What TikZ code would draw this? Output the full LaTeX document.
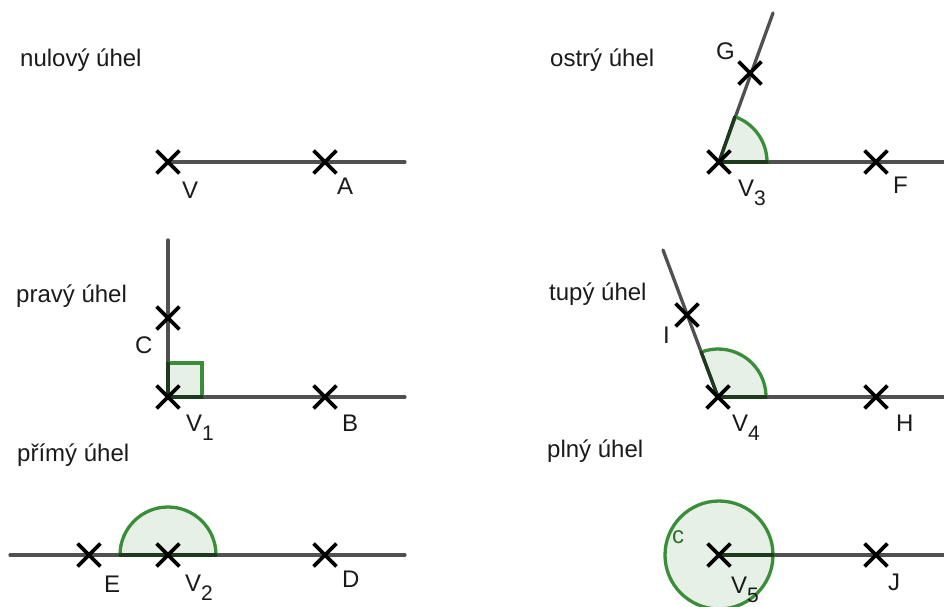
\documentclass[tikz,border=0pt]{standalone}
\usepackage{fontspec}
\setmainfont{Liberation Sans}
\usetikzlibrary{shapes.misc}
\definecolor{raygray}{HTML}{505050}
\definecolor{anggreen}{HTML}{3A8E3A}
\definecolor{angdark}{HTML}{1E3A1E}
\definecolor{txt}{HTML}{1A1A1A}
\newcommand\lblsub[1]{\raisebox{-9pt}{\fontsize{21}{21}\selectfont #1}}
\begin{document}
\begin{tikzpicture}[x=1pt,y=-1pt,
 ray/.style={draw=raygray,line width=3.3pt,line cap=round},
 pt/.style={cross out,draw=black,line width=3.8pt,minimum size=19pt,inner sep=0pt},
 lbl/.style={anchor=base west,text=txt,font=\fontsize{24}{28}\selectfont,inner sep=0pt},
 angfillst/.style={fill=anggreen,fill opacity=0.13},
 angarc/.style={draw=anggreen,line width=3.3pt},
 angedge/.style={draw=angdark,line width=3.3pt,line cap=round}]
\useasboundingbox (0,0) rectangle (944,607);

% ---------- titles ----------
\node[lbl] (t1) at (20,67) {nulový úhel};
\node[lbl] (t2) at (550,67) {ostrý úhel};
\node[lbl] (t3) at (16,302) {pravý úhel};
\node[lbl] (t4) at (549,300) {tupý úhel};
\node[lbl] (t5) at (17,461) {přímý úhel};
\node[lbl] (t6) at (547,457) {plný úhel};

% ---------- end coordinates ----------
\coordinate (e1) at (405,162);
\coordinate (e2a) at (944,162);
\coordinate (e2b) at (773,13);
\coordinate (e3a) at (405,397);
\coordinate (e3b) at (168,240);
\coordinate (e4a) at (944,397);
\coordinate (e4b) at (663,250);
\coordinate (e5a) at (405,555);
\coordinate (e5b) at (10,555);
\coordinate (e6a) at (944,555);

% ---------- points (coordinates) ----------
\coordinate (V) at (168,162);   \coordinate (A) at (325,162);
\coordinate (V3) at (719,162);  \coordinate (F) at (876,162);  \coordinate (G) at (750,73);
\coordinate (V1) at (168,397);  \coordinate (B) at (325,397);  \coordinate (C) at (168,318);
\coordinate (V4) at (718,397);  \coordinate (H) at (876,397);  \coordinate (I) at (687,315);
\coordinate (V2) at (168,555);  \coordinate (D) at (325,555);  \coordinate (E) at (89,555);
\coordinate (V5) at (719,555);  \coordinate (J) at (876,555);

% ---------- rays ----------
\draw[ray] (V) -- (e1);
\draw[ray] (V3) -- (e2a);
\draw[ray] (V3) -- (e2b);
\draw[ray] (V1) -- (e3a);
\draw[ray] (V1) -- (e3b);
\draw[ray] (V4) -- (e4a);
\draw[ray] (V4) -- (e4b);
\draw[ray] (e5b) -- (e5a);
\draw[ray] (V5) -- (e6a);

% ---------- angle marks ----------
% acute
\fill[angfillst] (V3) -- ++(48,0) arc[start angle=0,end angle=-70.8,radius=48] -- cycle;
\draw[angarc] (V3) ++(48,0) arc[start angle=0,end angle=-70.8,radius=48];
\draw[angedge] (V3) -- ++(48,0);
\draw[angedge] (V3) -- ++(-70.8:48);
% right
\fill[angfillst] (V1) rectangle ++(34,-34);
\draw[angarc] (V1) ++(0,-34) -- ++(34,0) -- ++(0,34);
\draw[angedge] (V1) -- ++(34,0);
\draw[angedge] (V1) -- ++(0,-34);
% obtuse
\fill[angfillst] (V4) -- ++(48,0) arc[start angle=0,end angle=-110.5,radius=48] -- cycle;
\draw[angarc] (V4) ++(48,0) arc[start angle=0,end angle=-110.5,radius=48];
\draw[angedge] (V4) -- ++(48,0);
\draw[angedge] (V4) -- ++(-110.5:48);
% straight
\fill[angfillst] (V2) -- ++(48,0) arc[start angle=0,end angle=-180,radius=48] -- cycle;
\draw[angarc] (V2) ++(48,0) arc[start angle=0,end angle=-180,radius=48];
\draw[angedge] (V2) ++(-48,0) -- ++(96,0);
% full
\fill[angfillst] (V5) circle[radius=54];
\draw[angarc] (V5) circle[radius=54];
\draw[angedge] (V5) -- ++(54,0);

% ---------- point crosses ----------
\foreach \p in {V,A,V3,F,G,V1,B,C,V4,H,I,V2,D,E,V5,J}
  \node[pt] (x\p) at (\p) {};

% ---------- point labels ----------
\node[lbl] (lV) at (182,198) {V};
\node[lbl] (lA) at (337,194) {A};
\node[lbl] (lG) at (716,60) {G};
\node[lbl] (lV3) at (738,196) {V\lblsub{3}};
\node[lbl] (lF) at (893,193) {F};
\node[lbl] (lC) at (135,353) {C};
\node[lbl] (lV1) at (186,431) {V\lblsub{1}};
\node[lbl] (lB) at (342,431) {B};
\node[lbl] (lI) at (663,343) {I};
\node[lbl] (lV4) at (732,431) {V\lblsub{4}};
\node[lbl] (lH) at (896,431) {H};
\node[lbl] (lE) at (104,592) {E};
\node[lbl] (lV2) at (185,591) {V\lblsub{2}};
\node[lbl] (lD) at (342,587) {D};
\node[lbl,text=anggreen!80!black] (lc) at (672,543) {c};
\node[lbl] (lV5) at (731,593) {V\lblsub{5}};
\node[lbl] (lJ) at (888,590) {J};
\end{tikzpicture}
\end{document}
